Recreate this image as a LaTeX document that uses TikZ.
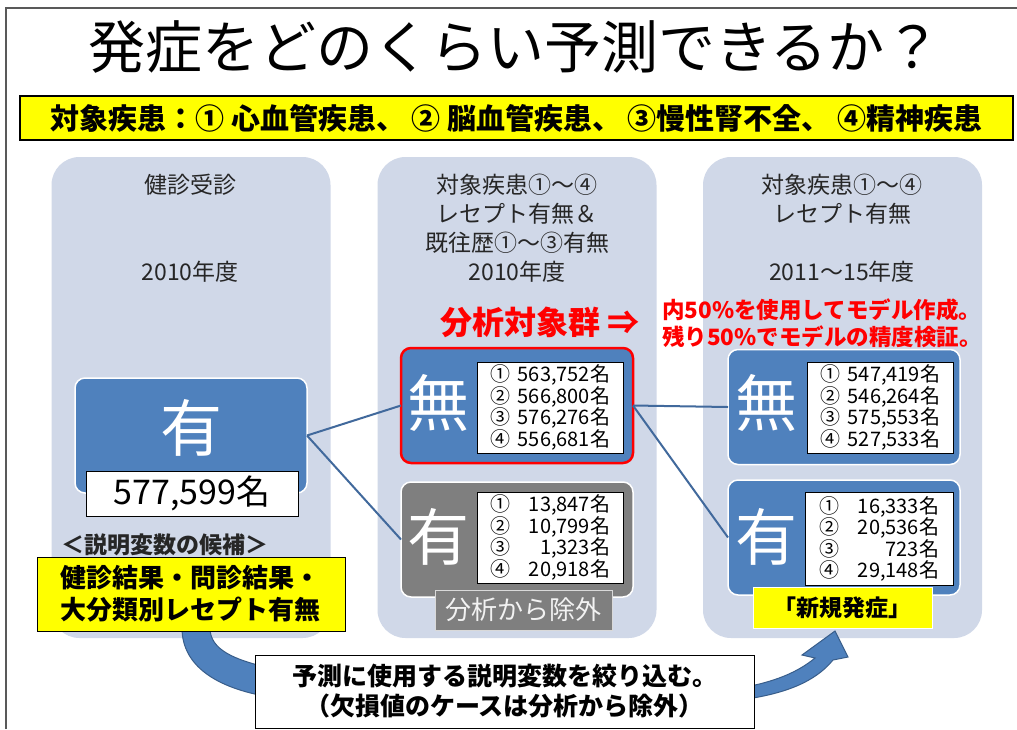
\documentclass[tikz,border=0pt]{standalone}
\usepackage{fontspec}
\setmainfont{Noto Sans CJK JP}
\definecolor{panelc}{HTML}{D0D8E8}
\definecolor{blueb}{HTML}{4F81BD}
\definecolor{grayb}{HTML}{7F7F7F}
\definecolor{connc}{HTML}{41699C}
\definecolor{txtc}{HTML}{262626}
\definecolor{framec}{HTML}{595959}
\definecolor{arrowedge}{HTML}{385D8A}
\definecolor{ylw}{HTML}{FFFF00}
\definecolor{redc}{HTML}{FF0000}
\newcommand\fsz[2]{\fontsize{#1}{#2}\selectfont}
\newcommand\nrow[2]{#1\makebox[5em][r]{#2}}
\tikzset{
  panel/.style={fill=panelc, draw=none, rounded corners=28pt, minimum width=279pt, minimum height=481pt},
  hdr/.style={text=txtc, font=\fsz{23}{29}},
  boxb/.style={rounded corners=10pt, minimum width=232pt, minimum height=115pt, line width=1.5pt},
  big/.style={text=white, font=\fsz{62}{62}},
  numbox/.style={fill=white, draw=black, line width=1pt},
  nlist/.style={numbox, minimum width=146pt, minimum height=91pt, align=left, font=\fsz{20}{20.5}},
  conn/.style={draw=connc, line width=2pt},
  bigarrow/.style={fill=blueb, draw=arrowedge, line width=1pt}
}
\begin{document}
\begin{tikzpicture}[x=1pt,y=-1pt, every node/.style={inner sep=0pt, outer sep=0pt}]
\useasboundingbox (0,0) rectangle (1017,729);
\fill[white] (0,0) rectangle (1017,729);
\draw[framec, line width=1.2pt] (6,729) -- (6,8) -- (1017,8);

% title and target diseases
\node[text=black, font=\fsz{57}{60}] (title) at (515,47) {発症をどのくらい予測できるか？};
\node[draw=black, line width=1.2pt, fill=ylw, minimum width=993pt, minimum height=44pt,
      font=\bfseries\fsz{29}{30}] (target) at (516.5,118)
      {対象疾患：① 心血管疾患、 ② 脳血管疾患、 ③慢性腎不全、 ④精神疾患};

% panels
\node[panel] (p1) at (191,397.5) {};
\node[panel] (p2) at (517,397.5) {};
\node[panel] (p3) at (842.5,397.5) {};

% big curved arrow (left part and right part behind the bottom box)
\fill[bigarrow] (182,628) .. controls (182,665) and (215,688) .. (270,697)
   -- (270,668) .. controls (235,660) and (210,650) .. (210,628) -- cycle;
\fill[bigarrow] (740,688) .. controls (775,682) and (798,672) .. (815,658)
   -- (802,655) -- (835,631) -- (848,657) -- (833,660)
   .. controls (815,682) and (785,694) .. (740,700) -- cycle;

% panel 1
\node[hdr] (h1) at (190,185) {健診受診};
\node[hdr] (d1) at (190,272) {2010年度};
\node[boxb, fill=blueb, draw=white] (b1) at (191,435.5) {};
\node[big] (b1t) at (191,428) {有};
\node[numbox, minimum width=212pt, minimum height=45pt, font=\fsz{34}{34}] (n1) at (192,493.5) {577,599名};
\node[text=txtc, font=\bfseries\fsz{23}{24}] (cand) at (165,545) {＜説明変数の候補＞};
\node[fill=ylw, draw=black, line width=1pt, minimum width=308pt, minimum height=74pt,
      text width=262pt, align=left, font=\bfseries\fsz{26}{32}] (yb) at (191,594)
      {健診結果・問診結果・\\大分類別レセプト有無};

% panel 2
\node[hdr, align=center] (h2) at (517,228) {対象疾患①～④\\レセプト有無＆\\既往歴①～③有無\\2010年度};
\node[text=redc, font=\bfseries\fsz{32}{34}] (grp) at (540,322) {分析対象群 ⇒};
\node[boxb, fill=blueb, draw=redc, line width=2.5pt] (m2) at (517,405.5) {};
\node[big] (m2t) at (438.5,403) {無};
\node[nlist] (l2) at (550,407.5) {\nrow{①}{563,752名}\\\nrow{②}{566,800名}\\\nrow{③}{576,276名}\\\nrow{④}{556,681名}};
\node[boxb, fill=grayb, draw=white] (g2) at (517,539.5) {};
\node[big] (g2t) at (438.5,537) {有};
\node[nlist] (k2) at (550,537.5) {\nrow{①}{13,847名}\\\nrow{②}{10,799名}\\\nrow{③}{1,323名}\\\nrow{④}{20,918名}};
\node[fill=grayb, draw=white!85!black, line width=1pt, minimum width=177pt, minimum height=40pt,
      text=white!95!black, font=\fsz{26}{26}] (ex) at (523.5,610) {分析から除外};

% panel 3
\node[hdr, align=center] (h3) at (842,199) {対象疾患①～④\\レセプト有無};
\node[hdr] (d3) at (842,272) {2011～15年度};
\node[text=redc, font=\bfseries\fsz{22.5}{27}, align=left] (note) at (822,323)
      {内50\%を使用してモデル作成。\\残り50\%でモデルの精度検証。};
\node[boxb, fill=blueb, draw=white] (m3) at (844,407) {};
\node[big] (m3t) at (766.5,403) {無};
\node[nlist] (l3) at (880,407.5) {\nrow{①}{547,419名}\\\nrow{②}{546,264名}\\\nrow{③}{575,553名}\\\nrow{④}{527,533名}};
\node[boxb, fill=blueb, draw=white] (y3) at (844,537.5) {};
\node[big] (y3t) at (766.5,537) {有};
\node[nlist, minimum width=148pt, minimum height=93pt] (k3) at (879,538.5) {\nrow{①}{16,333名}\\\nrow{②}{20,536名}\\\nrow{③}{723名}\\\nrow{④}{29,148名}};
\node[fill=ylw, draw=white, line width=1pt, minimum width=179pt, minimum height=41pt,
      font=\bfseries\fsz{23}{23}] (new) at (842.5,607.5) {「新規発症」};

% connectors
\draw[conn] (b1.east) -- (m2.west);
\draw[conn] (b1.east) -- (g2.west);
\draw[conn] (m2.east) -- (m3.west);
\draw[conn] (m2.east) -- (y3.west);

% bottom box
\node[fill=white, draw=black, line width=1pt, minimum width=499pt, minimum height=73pt,
      align=center, font=\bfseries\fsz{25}{30}] (bb) at (504.5,691.5)
      {予測に使用する説明変数を絞り込む。\\（欠損値のケースは分析から除外）};
\end{tikzpicture}
\end{document}
